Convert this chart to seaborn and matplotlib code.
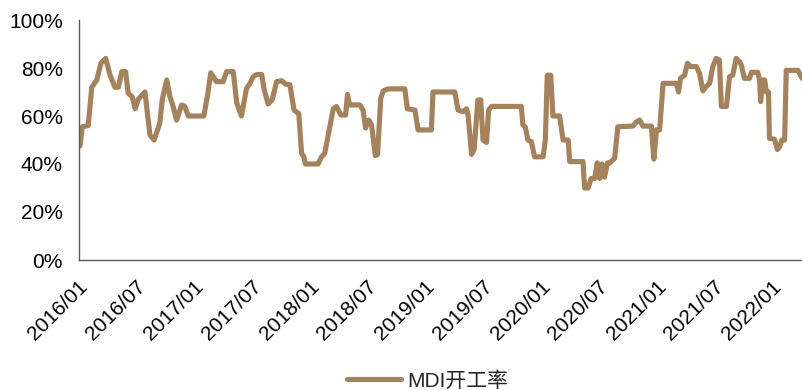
import matplotlib
matplotlib.use("Agg")
import matplotlib.pyplot as plt
import matplotlib.dates as mdates
import matplotlib.transforms as mtransforms
from matplotlib.ticker import MultipleLocator, PercentFormatter
import pandas as pd
import seaborn as sns

# Weekly MDI operating rate (%), turning points of the series
dates = [
    "2016-01-03", "2016-01-10", "2016-01-29", "2016-02-09", "2016-02-25", "2016-03-09", "2016-03-24",
    "2016-04-07", "2016-04-22", "2016-05-03", "2016-05-14", "2016-05-26", "2016-06-03", "2016-06-16",
    "2016-06-25", "2016-07-05", "2016-07-26", "2016-08-11", "2016-08-24", "2016-09-11", "2016-09-19",
    "2016-10-03", "2016-10-13", "2016-10-23", "2016-11-03", "2016-11-19", "2016-11-29", "2016-12-10",
    "2017-01-28", "2017-02-10", "2017-02-19", "2017-03-09", "2017-03-30", "2017-04-10", "2017-05-01",
    "2017-05-12", "2017-05-27", "2017-06-12", "2017-06-23", "2017-07-03", "2017-07-14", "2017-07-30",
    "2017-08-06", "2017-08-19", "2017-09-01", "2017-09-15", "2017-10-01", "2017-10-13", "2017-10-27",
    "2017-11-09", "2017-11-24", "2017-12-03", "2017-12-10", "2017-12-15",
    "2018-01-24", "2018-02-04", "2018-02-14", "2018-03-02", "2018-03-13", "2018-03-23", "2018-04-06",
    "2018-04-21", "2018-04-27", "2018-05-04", "2018-06-05", "2018-06-15", "2018-06-23", "2018-07-03",
    "2018-07-12", "2018-07-24", "2018-07-31", "2018-08-10", "2018-08-18", "2018-09-02", "2018-10-25",
    "2018-11-02", "2018-11-26", "2018-12-06",
    "2019-01-17", "2019-01-22", "2019-04-01", "2019-04-11", "2019-04-27", "2019-05-08", "2019-05-13",
    "2019-05-24", "2019-06-01", "2019-06-13", "2019-06-22", "2019-06-29", "2019-07-10", "2019-07-17",
    "2019-07-26", "2019-10-28", "2019-11-02", "2019-11-10", "2019-11-18", "2019-11-29", "2019-12-09",
    "2020-01-05", "2020-01-12", "2020-01-18", "2020-01-29", "2020-02-05", "2020-02-26", "2020-03-08",
    "2020-03-24", "2020-03-29", "2020-05-10", "2020-05-15", "2020-05-26", "2020-06-05", "2020-06-16",
    "2020-06-24", "2020-07-02", "2020-07-09", "2020-07-17", "2020-07-26", "2020-08-02", "2020-08-18",
    "2020-08-28", "2020-10-15", "2020-10-26", "2020-11-05", "2020-11-15", "2020-12-12", "2020-12-20",
    "2020-12-28",
    "2021-01-07", "2021-01-18", "2021-03-01", "2021-03-08", "2021-03-14", "2021-03-27", "2021-04-05",
    "2021-04-15", "2021-05-03", "2021-05-13", "2021-05-24", "2021-06-03", "2021-06-14", "2021-06-24",
    "2021-07-05", "2021-07-15", "2021-07-21", "2021-08-06", "2021-08-16", "2021-08-26", "2021-09-06",
    "2021-09-17", "2021-09-22", "2021-10-02", "2021-10-18", "2021-10-24", "2021-11-13", "2021-11-19",
    "2021-11-22", "2021-11-29", "2021-12-05", "2021-12-10", "2021-12-17", "2021-12-20",
    "2022-01-05", "2022-01-14", "2022-01-21", "2022-01-28", "2022-02-06", "2022-02-11", "2022-03-20",
    "2022-03-30", "2022-04-07",
]

rates = [
    47.5, 55.5, 56, 72, 75, 82, 84, 77, 72, 72, 78.5, 78.5, 69.5, 68, 63, 67, 70, 52, 50, 57,
    67, 75, 68, 64, 58.3, 64.6, 64, 60,
    60, 69.5, 78, 74.3, 74.3, 78.5, 78.5, 65.5, 60, 71.5, 73.6, 76.4, 77.3, 77.3, 71.5, 65, 66.7,
    74.3, 74.7, 73.3, 73, 62.5, 61, 44.4, 43, 40,
    40, 43, 44.4, 55.5, 63, 64, 60.4, 60.4, 69, 64.6, 64.6, 62.5, 55, 58.3, 56.3, 43.5, 44, 67.4,
    70.5, 71.3, 71.3, 63, 62.5, 54.2,
    54.2, 70, 70, 62.5, 61.8, 63, 60.4, 44, 46, 66.7, 66.7, 50, 49, 62.5, 64, 64, 56.3, 55.3, 50,
    49.3, 43,
    43, 50, 77, 77, 60, 60, 50, 50, 41, 41, 30, 30, 34, 34, 40.5, 34, 40, 34.5, 40.4, 40.4, 42.4,
    55.5, 55.8, 57.6, 58.3, 55.8, 55.8, 42, 54.2,
    54.2, 73.6, 73.6, 70, 75.7, 77, 82, 80.6, 80.6, 77.8, 70.5, 72.2, 73.6, 80.6, 84, 83.3, 64, 64,
    76.4, 77, 84, 82.6, 81.3, 75.7, 75.7, 78.2, 78.2, 75, 66, 75, 75, 70, 70, 50.7,
    50.3, 46, 47.2, 50, 50, 79, 79, 76.4, 75,
]

series_name = "MDI开工率"
line_color = "#A6825A"
axis_color = "#595959"

sns.set_theme(style="white")
plt.rcParams["font.family"] = ["Liberation Sans", "Noto Sans CJK SC", "DejaVu Sans"]

df = pd.DataFrame({"date": pd.to_datetime(dates), "rate": rates})

fig = plt.figure(figsize=(8.03, 3.9), dpi=100)
ax = fig.add_axes([79.4 / 803, 1 - 260 / 390, 1 - 79.4 / 803, 240 / 390])

sns.lineplot(data=df, x="date", y="rate", color=line_color, linewidth=3.7,
             ax=ax, label=series_name, legend=False)

ax.set_xlim(pd.Timestamp("2016-01-01"), pd.Timestamp("2022-04-05"))
ax.set_ylim(0, 100)
ax.yaxis.set_major_locator(MultipleLocator(20))
ax.yaxis.set_major_formatter(PercentFormatter(decimals=0))
ax.xaxis.set_major_locator(mdates.MonthLocator(bymonth=[1, 7]))
ax.xaxis.set_major_formatter(mdates.DateFormatter("%Y/%m"))
ax.set_xlabel("")
ax.set_ylabel("")

for side in ("top", "right"):
    ax.spines[side].set_visible(False)
for side in ("left", "bottom"):
    ax.spines[side].set_color(axis_color)
    ax.spines[side].set_linewidth(1.0)

ax.tick_params(axis="both", direction="in", length=5, width=1, color=axis_color,
               labelsize=15, labelcolor="black")
ax.tick_params(axis="y", pad=12)
ax.tick_params(axis="x", pad=17)
shift = mtransforms.ScaledTranslation(4 / 72, 0, fig.dpi_scale_trans)
for lab in ax.get_xticklabels():
    lab.set_rotation(45)
    lab.set_ha("right")
    lab.set_va("center")
    lab.set_rotation_mode("anchor")
    lab.set_transform(lab.get_transform() + shift)

handles, labels = ax.get_legend_handles_labels()
fig.legend(handles, labels, loc="center", bbox_to_anchor=(428 / 803, 1 - 381 / 390),
           frameon=False, fontsize=15, handlelength=2.6, handletextpad=0.3)

fig.savefig("out.png", dpi=100)
